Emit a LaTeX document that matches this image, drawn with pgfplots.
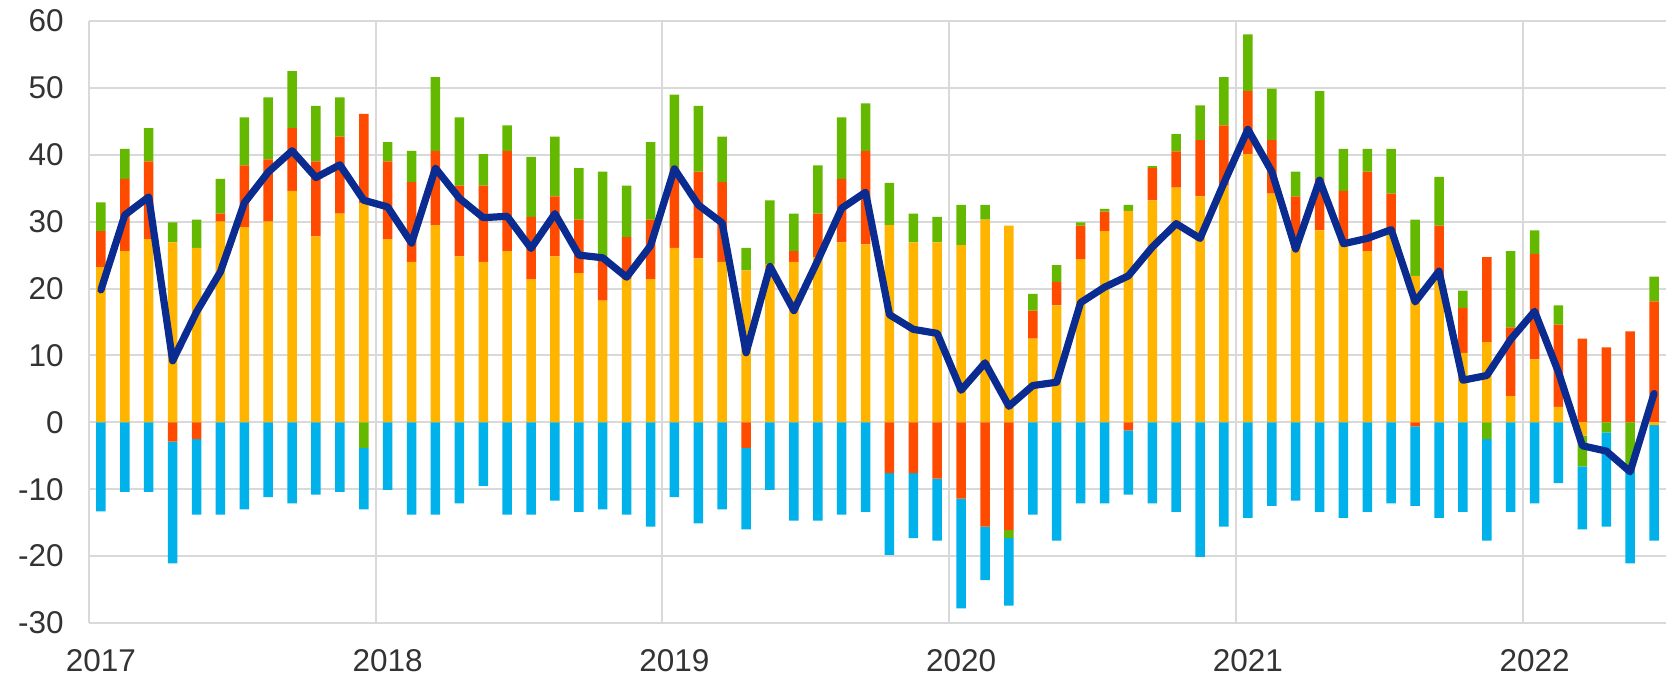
\documentclass[border=0pt]{standalone}
\usepackage{pgfplots}
\pgfplotsset{compat=1.18}
\usepackage{pgfplotstable}
\usepackage{fontspec}
\setmainfont{Liberation Sans}

\definecolor{cyel}{HTML}{FFB400}
\definecolor{cred}{HTML}{FF4B00}
\definecolor{cgrn}{HTML}{65B800}
\definecolor{cblu}{HTML}{00B1EA}
\definecolor{cline}{HTML}{0A2B8F}
\definecolor{cgrid}{HTML}{D9D9D9}
\definecolor{ctxt}{HTML}{333333}

\pgfplotstableread{
x Y R G Yn Rn Gn B L
0.5 23.2 5.4 4.3 0 0 0 -13.3 19.8
1.5 25.6 10.8 4.5 0 0 0 -10.4 31.0
2.5 27.4 11.6 5.0 0 0 0 -10.4 33.7
3.5 26.9 0 3.0 0 -2.9 0 -18.2 9.2
4.5 26.1 0 4.2 0 -2.5 0 -11.3 16.5
5.5 30.0 1.2 5.2 0 0 0 -13.8 22.5
6.5 29.2 9.2 7.2 0 0 0 -13.0 32.8
7.5 30.0 9.3 9.3 0 0 0 -11.2 37.4
8.5 34.6 9.4 8.5 0 0 0 -12.1 40.6
9.5 27.8 11.2 8.3 0 0 0 -10.8 36.6
10.5 31.2 11.5 5.9 0 0 0 -10.4 38.5
11.5 32.8 13.3 0 0 0 -3.8 -9.2 33.2
12.5 27.4 11.6 2.9 0 0 0 -10.1 32.2
13.5 24.0 11.9 4.7 0 0 0 -13.8 26.8
14.5 29.5 11.1 11.0 0 0 0 -13.8 38.0
15.5 24.8 10.6 10.2 0 0 0 -12.1 33.5
16.5 24.0 11.4 4.7 0 0 0 -9.5 30.6
17.5 25.6 15.0 3.8 0 0 0 -13.8 30.8
18.5 21.4 9.3 9.0 0 0 0 -13.8 26.0
19.5 24.8 9.0 8.9 0 0 0 -11.7 31.2
20.5 22.3 8.0 7.7 0 0 0 -13.4 25.0
21.5 18.2 6.5 12.8 0 0 0 -13.0 24.6
22.5 21.4 6.3 7.7 0 0 0 -13.8 21.7
23.5 21.4 8.9 11.6 0 0 0 -15.6 26.4
24.5 26.1 12.0 10.9 0 0 0 -11.2 37.9
25.5 24.5 13.0 9.8 0 0 0 -15.1 32.5
26.5 24.0 11.9 6.8 0 0 0 -13.0 29.8
27.5 22.7 0 3.4 0 -3.8 0 -12.2 10.4
28.5 23.7 0 9.5 0 0 0 -10.1 23.3
29.5 24.0 1.6 5.6 0 0 0 -14.7 16.7
30.5 24.7 6.5 7.2 0 0 0 -14.7 24.2
31.5 26.9 9.5 9.2 0 0 0 -13.8 32.0
32.5 26.6 14.0 7.1 0 0 0 -13.4 34.4
33.5 29.5 0 6.3 0 -7.6 0 -12.2 16.1
34.5 26.9 0 4.3 0 -7.6 0 -9.7 13.9
35.5 26.9 0 3.8 0 -8.4 0 -9.3 13.3
36.5 26.5 0 6.0 0 -11.4 0 -16.4 4.8
37.5 30.3 0 2.2 0 -15.6 0 -8.0 8.9
38.5 29.4 0 0 0 -16.1 -1.2 -10.1 2.4
39.5 12.5 4.2 2.5 0 0 0 -13.8 5.5
40.5 17.5 3.5 2.5 0 0 0 -17.7 6.0
41.5 24.4 5.0 0.5 0 0 0 -12.1 17.9
42.5 28.6 2.9 0.4 0 0 0 -12.1 20.2
43.5 31.6 0 0.9 0 -1.2 0 -9.6 21.9
44.5 33.2 4.8 0.3 0 0 0 -12.1 26.2
45.5 35.1 5.4 2.6 0 0 0 -13.4 29.7
46.5 33.8 8.4 5.2 0 0 0 -20.1 27.5
47.5 35.4 9.0 7.2 0 0 0 -15.6 35.8
48.5 40.1 9.4 8.5 0 0 0 -14.3 43.8
49.5 34.2 8.0 7.7 0 0 0 -12.5 37.5
50.5 26.0 7.8 3.7 0 0 0 -11.7 25.9
51.5 28.7 7.7 13.1 0 0 0 -13.4 36.2
52.5 26.9 7.7 6.3 0 0 0 -14.3 26.7
53.5 25.6 11.9 3.4 0 0 0 -13.4 27.5
54.5 28.6 5.6 6.7 0 0 0 -12.1 28.8
55.5 21.9 0 8.4 0 -0.6 0 -11.9 18.0
56.5 21.4 8.0 7.3 0 0 0 -14.3 22.6
57.5 10.4 6.7 2.6 0 0 0 -13.4 6.3
58.5 12.0 12.7 0 0 0 -2.5 -15.2 7.0
59.5 3.9 10.3 11.4 0 0 0 -13.4 12.4
60.5 9.4 15.8 3.5 0 0 0 -12.1 16.6
61.5 2.3 12.3 2.9 0 0 0 -9.1 7.5
62.5 0 12.5 0 -2.0 0 -4.6 -9.4 -3.5
63.5 0 11.2 0 0 0 -1.5 -14.1 -4.3
64.5 0 13.6 0 0 0 -7.3 -13.8 -7.4
65.5 0 18.1 3.7 -0.4 0 0 -17.3 4.3
}\data

\pgfplotsset{
  base/.style={
    at={(0,0)}, anchor=south west, scale only axis,
    width=788.5bp, height=301bp,
    xmin=0, xmax=66, ymin=-30, ymax=60,
  },
  bars/.style={ybar stacked, bar width=4.75bp},
}

\begin{document}
\begin{tikzpicture}
\useasboundingbox (-44.5bp,-29.5bp) rectangle (792bp,311.5bp);
% axis 1: grid, labels, positive stack
\begin{axis}[base, bars,
  axis line style={draw=none},
  xtick={0,12,24,36,48,60},
  xticklabels={2017,2018,2019,2020,2021,2022},
  ytick={-30,-20,...,60},
  grid=major,
  major grid style={line width=1bp, color=cgrid},
  major tick length=0pt,
  tick label style={font=\fontsize{15.8}{19}\selectfont, text=ctxt},
  yticklabel style={xshift=-9.2bp},
  xticklabel style={yshift=-9.7bp, xshift=6bp},
  /pgf/number format/assume math mode=true,
]
\addplot[fill=cyel, draw=none] table[x=x, y=Y]{\data};
\addplot[fill=cred, draw=none] table[x=x, y=R]{\data};
\addplot[fill=cgrn, draw=none] table[x=x, y=G]{\data};
\end{axis}
% axis 2: negative stack
\begin{axis}[base, bars, hide axis]
\addplot[fill=cyel, draw=none] table[x=x, y=Yn]{\data};
\addplot[fill=cred, draw=none] table[x=x, y=Rn]{\data};
\addplot[fill=cgrn, draw=none] table[x=x, y=Gn]{\data};
\addplot[fill=cblu, draw=none] table[x=x, y=B]{\data};
\end{axis}
% axis 3: net line
\begin{axis}[base, hide axis]
\addplot[color=cline, line width=3.6bp, line join=round, line cap=round, mark=none] table[x=x, y=L]{\data};
\end{axis}
\end{tikzpicture}
\end{document}
